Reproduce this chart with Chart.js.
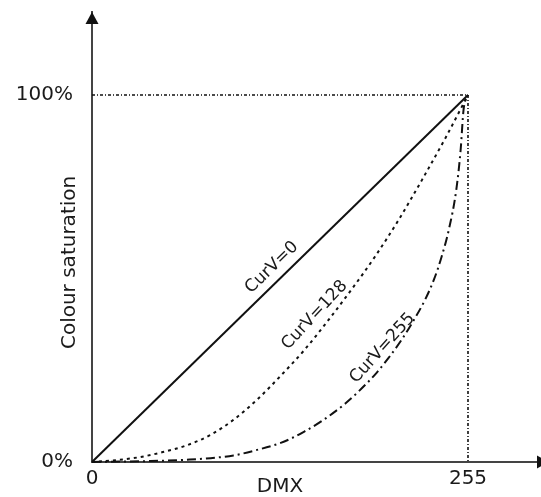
<!DOCTYPE html>
<html>
<head>
<meta charset="utf-8">
<script src="https://cdn.jsdelivr.net/npm/chart.js@4/dist/chart.umd.min.js"></script>
<style>
  html, body { margin: 0; padding: 0; background: #ffffff; }
  #wrap { width: 541px; height: 497px; position: relative; }
</style>
</head>
<body>
<div id="wrap"><canvas id="c"></canvas></div>
<script>
// ---- data ----
const xTickValues = [0, 255];
const xTickLabels = ['0', '255'];
const yTickValues = [0, 100];
const yTickLabels = ['0%', '100%'];
const xAxisTitle = 'DMX';
const yAxisTitle = 'Colour saturation';
const yAxisTop = 122.6;   // axis runs beyond 100% up to the arrow

const dmxCurv0 = [0, 255];
const satCurv0 = [0, 100];

const dmxCurv128 = [0, 16, 32, 48, 64, 80, 96, 112, 128, 144, 160, 176, 192, 208, 224, 240, 255];
const satCurv128 = [0, 0.5, 1.3, 2.7, 4.5, 7.3, 11.5, 17, 23.5, 30.5, 38.5, 47, 56, 66, 77, 88.5, 100];

const dmxCurv255 = [0, 32, 64, 96, 112, 128, 136, 144, 156, 172, 181, 193, 201, 210, 217, 226, 232, 237, 242, 247, 250, 252, 255];
const satCurv255 = [0, 0.2, 0.6, 1.8, 3.3, 5.2, 6.6, 8.3, 11.2, 16, 19.3, 24.3, 28.3, 33.3, 37.8, 44.3, 49.8, 55.8, 63.3, 74, 85, 96, 100];

const guideDmx = [0, 255, 255];
const guideSat = [100, 100, 0];

const curveLabels = ['CurV=0', 'CurV=128', 'CurV=255'];
const curveLabelDmx = [122, 151, 197];
const curveLabelSat = [53, 40, 31];
const curveLabelAngle = [-44, -47, -48];

// ---- build ----
const pts = (xs, ys) => xs.map((x, i) => ({ x: x, y: ys[i] }));
const FONT = "'DejaVu Sans', sans-serif";
const INK = '#1a1a1a';
const AXIS = '#444444';

const curveLabelPlugin = {
  id: 'curveLabels',
  afterDatasetsDraw(chart) {
    const { ctx, scales } = chart;
    ctx.save();
    ctx.fillStyle = INK;
    ctx.font = "17px " + FONT;
    ctx.textAlign = 'center';
    ctx.textBaseline = 'middle';
    curveLabels.forEach((t, i) => {
      const px = scales.x.getPixelForValue(curveLabelDmx[i]);
      const py = scales.y.getPixelForValue(curveLabelSat[i]);
      ctx.save();
      ctx.translate(px, py);
      ctx.rotate(curveLabelAngle[i] * Math.PI / 180);
      ctx.fillText(t, 0, 0);
      ctx.restore();
    });
    ctx.restore();
  }
};

const arrowPlugin = {
  id: 'axisArrows',
  afterDraw(chart) {
    const { ctx, chartArea } = chart;
    const x0 = chartArea.left, y0 = chartArea.bottom;
    ctx.save();
    ctx.strokeStyle = AXIS;
    ctx.fillStyle = '#111';
    ctx.lineWidth = 2;
    ctx.beginPath();
    ctx.moveTo(chartArea.right, y0);
    ctx.lineTo(chart.width, y0);
    ctx.stroke();
    ctx.beginPath();
    ctx.moveTo(chart.width - 4, y0 - 6.5);
    ctx.lineTo(chart.width + 8, y0);
    ctx.lineTo(chart.width - 4, y0 + 6.5);
    ctx.closePath();
    ctx.fill();
    ctx.beginPath();
    ctx.moveTo(x0 - 6.5, chartArea.top + 12);
    ctx.lineTo(x0, chartArea.top);
    ctx.lineTo(x0 + 6.5, chartArea.top + 12);
    ctx.closePath();
    ctx.fill();
    ctx.restore();
  }
};

new Chart(document.getElementById('c'), {
  type: 'line',
  data: {
    datasets: [
      {
        label: 'guide',
        data: pts(guideDmx, guideSat),
        borderColor: '#111',
        borderWidth: 1.6,
        borderDash: [3, 2, 1, 2],
        pointRadius: 0,
        tension: 0,
        fill: false,
        clip: false
      },
      {
        label: curveLabels[0],
        data: pts(dmxCurv0, satCurv0),
        borderColor: '#111',
        borderWidth: 2,
        pointRadius: 0,
        tension: 0,
        fill: false,
        clip: false
      },
      {
        label: curveLabels[1],
        data: pts(dmxCurv128, satCurv128),
        borderColor: '#111',
        borderWidth: 2,
        borderDash: [3, 4],
        pointRadius: 0,
        cubicInterpolationMode: 'monotone',
        fill: false,
        clip: false
      },
      {
        label: curveLabels[2],
        data: pts(dmxCurv255, satCurv255),
        borderColor: '#111',
        borderWidth: 2,
        borderDash: [9, 4, 2, 4],
        pointRadius: 0,
        cubicInterpolationMode: 'monotone',
        fill: false,
        clip: false
      }
    ]
  },
  options: {
    responsive: true,
    maintainAspectRatio: false,
    animation: false,
    layout: { padding: { top: 12, right: 73, bottom: 0, left: 0 } },
    plugins: {
      legend: { display: false },
      tooltip: { enabled: false },
      title: { display: false }
    },
    scales: {
      x: {
        type: 'linear',
        min: 0,
        max: 255,
        afterBuildTicks: (s) => { s.ticks = xTickValues.map(v => ({ value: v })); },
        afterFit: (s) => { s.height = 35; s.paddingLeft = 0; s.paddingRight = 0; },
        grid: { display: false, drawTicks: false },
        border: { display: true, color: AXIS, width: 2 },
        ticks: {
          padding: 5,
          color: INK,
          font: { family: FONT, size: 20 },
          maxRotation: 0,
          callback: (v) => { const i = xTickValues.indexOf(v); return i >= 0 ? xTickLabels[i] : ''; }
        },
        title: {
          display: true,
          text: xAxisTitle,
          color: INK,
          font: { family: FONT, size: 20, lineHeight: 1 },
          padding: { top: 0, bottom: 0 }
        }
      },
      y: {
        type: 'linear',
        min: 0,
        max: yAxisTop,
        afterBuildTicks: (s) => { s.ticks = yTickValues.map(v => ({ value: v })); },
        afterFit: (s) => { s.width = 92; s.paddingTop = 0; s.paddingBottom = 0; },
        grid: { display: false, drawTicks: false },
        border: { display: true, color: AXIS, width: 2 },
        ticks: {
          padding: 19,
          color: INK,
          font: { family: FONT, size: 20 },
          callback: (v) => { const i = yTickValues.indexOf(v); return i >= 0 ? yTickLabels[i] : ''; }
        },
        title: {
          display: true,
          text: yAxisTitle + '\u0020\u0020\u0020\u0020\u0020\u0020\u0020\u0020',
          color: INK,
          font: { family: FONT, size: 20, lineHeight: 1 },
          padding: { top: 60, bottom: 0 }
        }
      }
    }
  },
  plugins: [curveLabelPlugin, arrowPlugin]
});
</script>
</body>
</html>
